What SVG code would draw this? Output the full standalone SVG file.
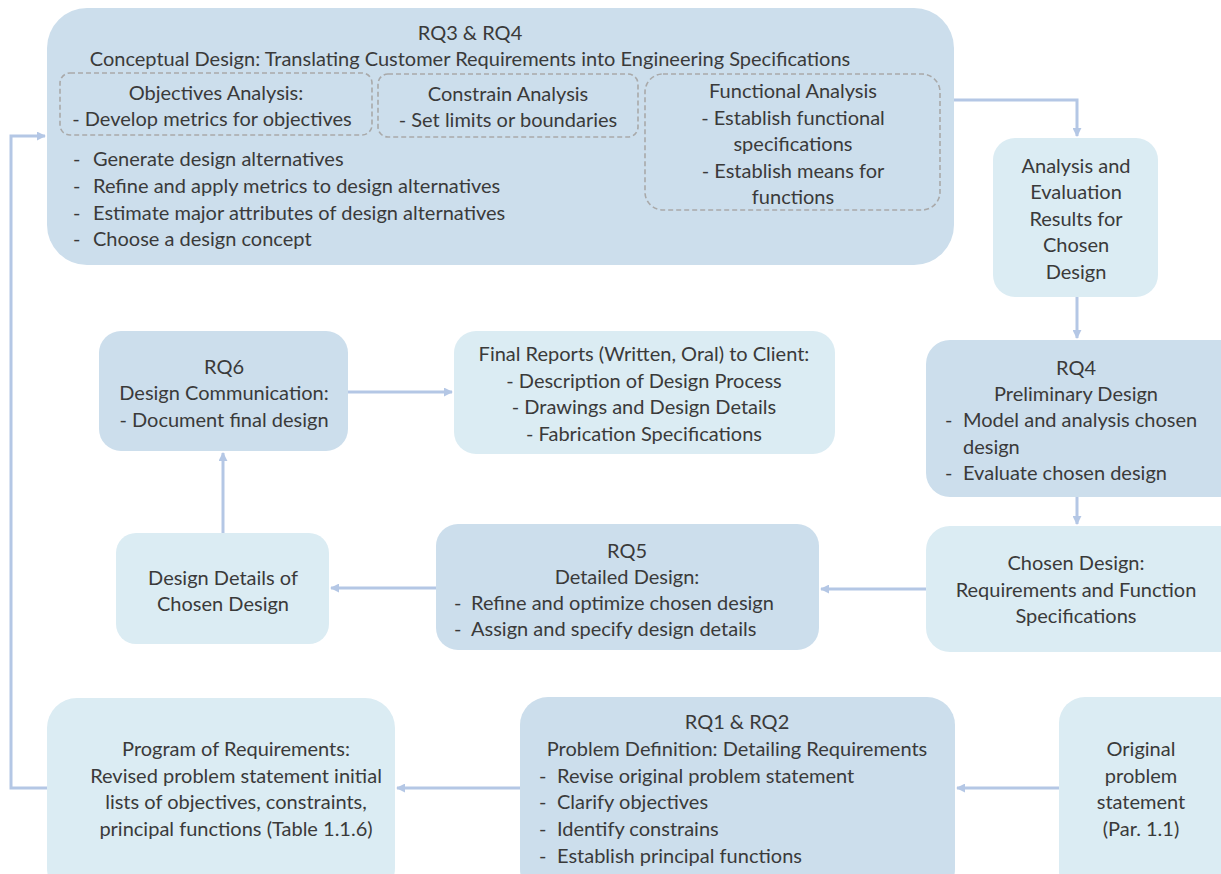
<svg xmlns="http://www.w3.org/2000/svg" width="1221" height="874" viewBox="0 0 1221 874">
<defs>
<style>
.dk{fill:#ccdeec;}
.lt{fill:#dbecf3;}
.ds{fill:none;stroke:#a9a9a9;stroke-width:1.6;stroke-dasharray:5 3;}
text{font-family:Lato,"Open Sans","Liberation Sans",sans-serif;font-size:20px;fill:#3a3a3a;dominant-baseline:central;}
.c{text-anchor:middle;}
.cn{fill:none;stroke:#b4c7e5;stroke-width:3;}
</style>
<marker id="ah" viewBox="0 0 10 10" refX="9" refY="5" markerWidth="9" markerHeight="9" markerUnits="userSpaceOnUse" orient="auto">
<path d="M0,0 L10,5 L0,10 z" fill="#b4c7e5"/>
</marker>
</defs>
<rect width="1221" height="874" fill="#ffffff"/>

<g id="connectors">
<path class="cn" d="M954,100 H1077 V136" marker-end="url(#ah)"/>
<path class="cn" d="M1077,297 V338" marker-end="url(#ah)"/>
<path class="cn" d="M1077,497 V524" marker-end="url(#ah)"/>
<path class="cn" d="M926,589 H821" marker-end="url(#ah)"/>
<path class="cn" d="M436,588 H331" marker-end="url(#ah)"/>
<path class="cn" d="M223,533 V453" marker-end="url(#ah)"/>
<path class="cn" d="M348,392 H452" marker-end="url(#ah)"/>
<path class="cn" d="M1059,788 H957" marker-end="url(#ah)"/>
<path class="cn" d="M520,788 H397" marker-end="url(#ah)"/>
<path class="cn" d="M47,788 H11 V136 H45" marker-end="url(#ah)"/>
</g>

<g id="conceptual">
<rect class="dk" x="47" y="8" width="907" height="257" rx="40"/>
<text class="c" x="470" y="32">RQ3 &amp; RQ4</text>
<text class="c" x="470" y="58">Conceptual Design: Translating Customer Requirements into Engineering Specifications</text>
<rect class="ds" x="60" y="73" width="312" height="62" rx="10"/>
<text class="c" x="216" y="92">Objectives Analysis:</text>
<text class="c" x="212" y="118">- Develop metrics for objectives</text>
<rect class="ds" x="378" y="74" width="260" height="63" rx="10"/>
<text class="c" x="508" y="93">Constrain Analysis</text>
<text class="c" x="508" y="119">- Set limits or boundaries</text>
<rect class="ds" x="645" y="74" width="295" height="136" rx="18"/>
<text class="c" x="793" y="90">Functional Analysis</text>
<text class="c" x="793" y="117">- Establish functional</text>
<text class="c" x="793" y="143">specifications</text>
<text class="c" x="793" y="170">- Establish means for</text>
<text class="c" x="793" y="196">functions</text>
<text x="73" y="158">-</text><text x="93" y="158">Generate design alternatives</text>
<text x="73" y="185">-</text><text x="93" y="185">Refine and apply metrics to design alternatives</text>
<text x="73" y="212">-</text><text x="93" y="212">Estimate major attributes of design alternatives</text>
<text x="73" y="238">-</text><text x="93" y="238">Choose a design concept</text>
</g>

<g id="analysis">
<rect class="lt" x="993" y="138" width="165" height="159" rx="22"/>
<text class="c" x="1076" y="165">Analysis and</text>
<text class="c" x="1076" y="191">Evaluation</text>
<text class="c" x="1076" y="218">Results for</text>
<text class="c" x="1076" y="244">Chosen</text>
<text class="c" x="1076" y="271">Design</text>
</g>

<g id="preliminary">
<rect class="dk" x="926" y="340" width="320" height="157" rx="24"/>
<text class="c" x="1076" y="367">RQ4</text>
<text class="c" x="1076" y="393">Preliminary Design</text>
<text x="945" y="419">-</text><text x="963" y="419">Model and analysis chosen</text>
<text x="963" y="446">design</text>
<text x="945" y="472">-</text><text x="963" y="472">Evaluate chosen design</text>
</g>

<g id="chosen">
<rect class="lt" x="926" y="526" width="320" height="126" rx="24"/>
<text class="c" x="1076" y="562">Chosen Design:</text>
<text class="c" x="1076" y="589">Requirements and Function</text>
<text class="c" x="1076" y="615">Specifications</text>
</g>

<g id="detailed">
<rect class="dk" x="436" y="524" width="383" height="126" rx="22"/>
<text class="c" x="627" y="550">RQ5</text>
<text class="c" x="627" y="576">Detailed Design:</text>
<text x="454" y="602">-</text><text x="471" y="602">Refine and optimize chosen design</text>
<text x="454" y="628">-</text><text x="471" y="628">Assign and specify design details</text>
</g>

<g id="details">
<rect class="lt" x="116" y="533" width="213" height="111" rx="20"/>
<text class="c" x="223" y="577">Design Details of</text>
<text class="c" x="223" y="603">Chosen Design</text>
</g>

<g id="communication">
<rect class="dk" x="99" y="331" width="249" height="120" rx="22"/>
<text class="c" x="224" y="366">RQ6</text>
<text class="c" x="224" y="392">Design Communication:</text>
<text class="c" x="224" y="419">- Document final design</text>
</g>

<g id="reports">
<rect class="lt" x="454" y="331" width="381" height="123" rx="22"/>
<text class="c" x="644" y="353">Final Reports (Written, Oral) to Client:</text>
<text class="c" x="644" y="380">- Description of Design Process</text>
<text class="c" x="644" y="406">- Drawings and Design Details</text>
<text class="c" x="644" y="433">- Fabrication Specifications</text>
</g>

<g id="original">
<rect class="lt" x="1059" y="697" width="190" height="200" rx="26"/>
<text class="c" x="1141" y="748">Original</text>
<text class="c" x="1141" y="775">problem</text>
<text class="c" x="1141" y="801">statement</text>
<text class="c" x="1141" y="828">(Par. 1.1)</text>
</g>

<g id="definition">
<rect class="dk" x="520" y="697" width="435" height="200" rx="28"/>
<text class="c" x="737" y="721">RQ1 &amp; RQ2</text>
<text class="c" x="737" y="748">Problem Definition: Detailing Requirements</text>
<text x="539" y="775">-</text><text x="557" y="775">Revise original problem statement</text>
<text x="539" y="801">-</text><text x="557" y="801">Clarify objectives</text>
<text x="539" y="828">-</text><text x="557" y="828">Identify constrains</text>
<text x="539" y="855">-</text><text x="557" y="855">Establish principal functions</text>
</g>

<g id="program">
<rect class="lt" x="47" y="698" width="348" height="200" rx="30"/>
<text class="c" x="236" y="748">Program of Requirements:</text>
<text class="c" x="236" y="775">Revised problem statement initial</text>
<text class="c" x="236" y="801">lists of objectives, constraints,</text>
<text class="c" x="236" y="828">principal functions (Table 1.1.6)</text>
</g>
</svg>
